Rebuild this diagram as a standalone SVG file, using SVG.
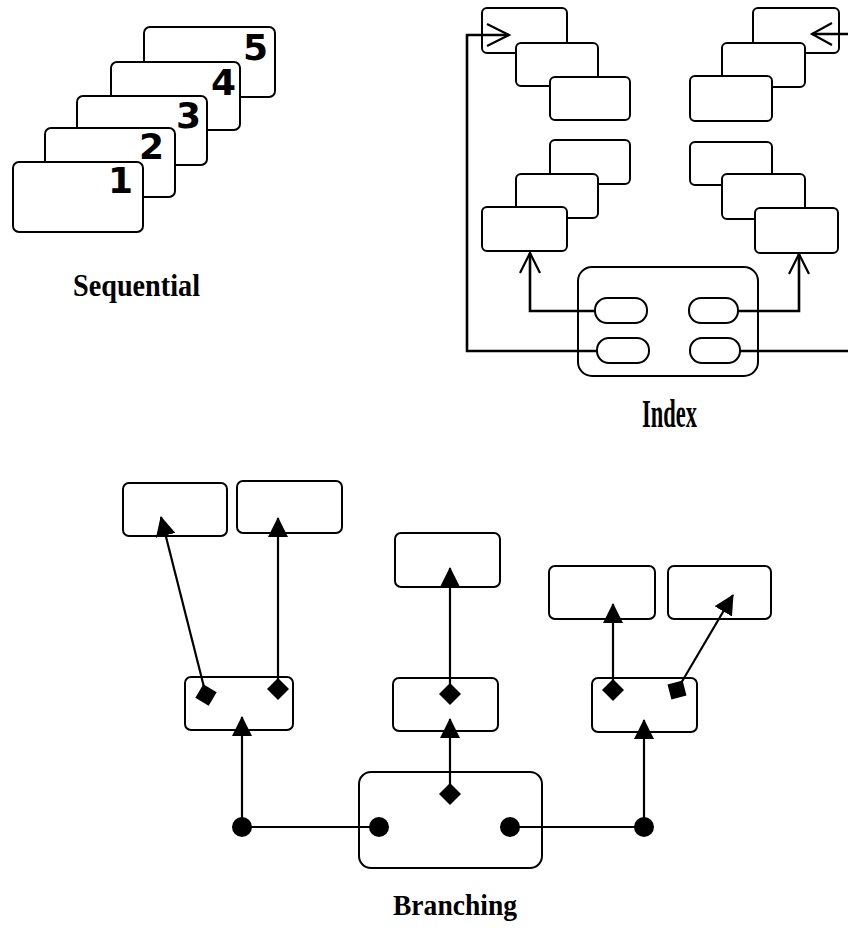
<svg xmlns="http://www.w3.org/2000/svg" width="848" height="928" viewBox="0 0 848 928">
<style>
.card{fill:#fff;stroke:#000;stroke-width:2}
.num{font-family:"DejaVu Sans",sans-serif;font-weight:bold;font-size:36px;fill:#000;text-anchor:end}
.lbl{font-family:"Liberation Serif",serif;font-weight:bold;fill:#000}
.conn{fill:none;stroke:#000;stroke-width:2.6}
.open{fill:none;stroke:#000;stroke-width:2.2}
.bl{fill:none;stroke:#000;stroke-width:2.2}
.dot{fill:#000}
</style>
<defs>
<marker id="tri" markerUnits="userSpaceOnUse" markerWidth="20" markerHeight="20" viewBox="0 0 20 20" refX="19" refY="10" orient="auto">
<path d="M0,0 L20,10 L0,20 Z" fill="#000"/>
</marker>
<polygon id="dia" points="0,-11 11,0 0,11 -11,0" fill="#000"/>
</defs>
<rect width="848" height="928" fill="#fff"/>

<!-- Sequential -->
<g id="seq5"><rect class="card" x="144" y="27" width="131" height="70" rx="6"/><text class="num" x="268" y="60">5</text></g>
<g id="seq4"><rect class="card" x="111" y="62" width="129" height="68" rx="6"/><text class="num" x="236" y="95">4</text></g>
<g id="seq3"><rect class="card" x="77" y="96" width="130" height="69" rx="6"/><text class="num" x="201" y="128">3</text></g>
<g id="seq2"><rect class="card" x="45" y="128" width="130" height="69" rx="6"/><text class="num" x="164" y="159">2</text></g>
<g id="seq1"><rect class="card" x="13" y="162" width="130" height="70" rx="6"/><text class="num" x="133" y="193">1</text></g>
<text class="lbl" x="73" y="296" font-size="32" textLength="127" lengthAdjust="spacingAndGlyphs">Sequential</text>

<!-- Index -->
<g id="idxA"><rect class="card" x="482" y="8" width="85" height="45" rx="5"/></g>
<g id="idxB"><rect class="card" x="516" y="43" width="82" height="43" rx="5"/></g>
<g id="idxC"><rect class="card" x="550" y="77" width="80" height="43" rx="5"/></g>
<g id="idxD"><rect class="card" x="550" y="140" width="80" height="44" rx="5"/></g>
<g id="idxE"><rect class="card" x="516" y="174" width="82" height="44" rx="5"/></g>
<g id="idxF"><rect class="card" x="482" y="207" width="85" height="44" rx="5"/></g>
<g id="idxG"><rect class="card" x="753" y="8" width="86" height="45" rx="5"/></g>
<g id="idxH"><rect class="card" x="722" y="43" width="83" height="44" rx="5"/></g>
<g id="idxI"><rect class="card" x="690" y="76" width="82" height="45" rx="5"/></g>
<g id="idxJ"><rect class="card" x="690" y="142" width="82" height="43" rx="5"/></g>
<g id="idxK"><rect class="card" x="722" y="174" width="83" height="45" rx="5"/></g>
<g id="idxL"><rect class="card" x="755" y="208" width="83" height="45" rx="5"/></g>
<g id="idxContainer">
<rect class="card" x="578" y="267" width="180" height="109" rx="14"/>
<rect class="card" x="595" y="298" width="52" height="25" rx="12"/>
<rect class="card" x="689" y="298" width="49" height="25" rx="12"/>
<rect class="card" x="597" y="338" width="52" height="25" rx="12"/>
<rect class="card" x="690" y="338" width="50" height="25" rx="12"/>
</g>
<text class="lbl" x="642" y="427" font-size="40" textLength="55" lengthAdjust="spacingAndGlyphs">Index</text>

<g id="index-connectors">
<path class="conn" d="M595,311 H530 V253"/>
<polyline class="open" points="520,273 530,253 540,273"/>
<path class="conn" d="M738,311 H799 V254"/>
<polyline class="open" points="789,274 799,254 809,274"/>
<path class="conn" d="M597,351 H467 V35 H509"/>
<polyline class="open" points="487,24 509,35 487,46"/>
<path class="conn" d="M740,351 H848"/>
<path class="conn" d="M848,34 H812"/>
<polyline class="open" points="832,23 812,34 832,45"/>
</g>

<!-- Branching -->
<g id="brB1"><rect class="card" x="123" y="483" width="104" height="53" rx="6"/></g>
<g id="brB2"><rect class="card" x="237" y="481" width="105" height="52" rx="6"/></g>
<g id="brB3"><rect class="card" x="395" y="533" width="105" height="54" rx="6"/></g>
<g id="brR1"><rect class="card" x="549" y="566" width="106" height="53" rx="6"/></g>
<g id="brR2"><rect class="card" x="668" y="566" width="103" height="53" rx="6"/></g>
<g id="brM1"><rect class="card" x="185" y="677" width="108" height="53" rx="6"/></g>
<g id="brM2"><rect class="card" x="393" y="678" width="105" height="53" rx="6"/></g>
<g id="brM3"><rect class="card" x="592" y="678" width="105" height="54" rx="6"/></g>
<g id="brRoot"><rect class="card" x="359" y="772" width="183" height="96" rx="12"/></g>
<text class="lbl" x="393" y="915" font-size="29" textLength="124" lengthAdjust="spacingAndGlyphs">Branching</text>

<g id="branch-connectors">
<path class="bl" d="M242,827 H379"/>
<path class="bl" d="M510,827 H644"/>
<path class="bl" d="M242,827 V717" marker-end="url(#tri)"/>
<path class="bl" d="M644,827 V720" marker-end="url(#tri)"/>
<path class="bl" d="M450,794 V719" marker-end="url(#tri)"/>
<path class="bl" d="M278,689 V518" marker-end="url(#tri)"/>
<path class="bl" d="M206,695 L161,517" marker-end="url(#tri)"/>
<path class="bl" d="M450,694 V568" marker-end="url(#tri)"/>
<path class="bl" d="M613,690 V604" marker-end="url(#tri)"/>
<path class="bl" d="M677,690 L733,595" marker-end="url(#tri)"/>
<circle class="dot" cx="242" cy="827" r="10"/>
<circle class="dot" cx="379" cy="827" r="10"/>
<circle class="dot" cx="510" cy="827" r="10"/>
<circle class="dot" cx="644" cy="827" r="10"/>
<use href="#dia" x="450" y="794"/>
<use href="#dia" x="278" y="689"/>
<use href="#dia" x="450" y="694"/>
<use href="#dia" x="613" y="690"/>
<use href="#dia" transform="translate(206,695) rotate(-14)"/>
<use href="#dia" transform="translate(677,690) rotate(30.5)"/>
</g>
</svg>
